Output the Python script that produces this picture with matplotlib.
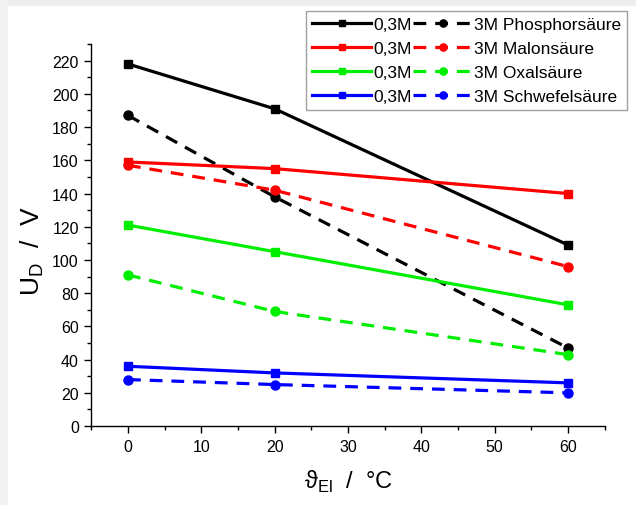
import matplotlib
matplotlib.use('Agg')
import matplotlib.pyplot as plt
from matplotlib.patches import Rectangle
from matplotlib.ticker import MultipleLocator

plt.rcParams['font.family'] = ['Liberation Sans', 'DejaVu Sans']
plt.rcParams['mathtext.fontset'] = 'custom'
plt.rcParams['mathtext.rm'] = 'Liberation Sans'

# Temperatur / °C
temps = [0, 20, 60]

acids = ['Phosphorsäure', 'Malonsäure', 'Oxalsäure', 'Schwefelsäure']
colors = ['black', '#ff0000', '#00ee00', '#0000ff']

# Durchbruchspannung U_D / V
u_03M_phosphor = [218, 191, 109]
u_03M_malon = [159, 155, 140]
u_03M_oxal = [121, 105, 73]
u_03M_schwefel = [36, 32, 26]

u_3M_phosphor = [187, 138, 47]
u_3M_malon = [157, 142, 96]
u_3M_oxal = [91, 69, 43]
u_3M_schwefel = [28, 25, 20]

u_03M = [u_03M_phosphor, u_03M_malon, u_03M_oxal, u_03M_schwefel]
u_3M = [u_3M_phosphor, u_3M_malon, u_3M_oxal, u_3M_schwefel]

fig = plt.figure(figsize=(6.36, 5.06), dpi=100)
ax = fig.add_axes([0.1436, 0.156, 0.8072, 0.755])

# grauer Rand (Screenshot-Rahmen)
fig.patches.append(Rectangle((0, 1 - 7 / 506), 1, 7 / 506, transform=fig.transFigure,
                             facecolor='#eeeeee', edgecolor='none', zorder=0))
fig.patches.append(Rectangle((0, 0), 8 / 636, 1, transform=fig.transFigure,
                             facecolor='#f2f2f2', edgecolor='none', zorder=0))

solid_handles = []
dashed_handles = []
for acid, col, y1, y2 in zip(acids, colors, u_03M, u_3M):
    h1, = ax.plot(temps, y1, color=col, lw=2.3, marker='s', ms=6,
                  label='0,3M', clip_on=False)
    h2, = ax.plot(temps, y2, color=col, lw=2.3, marker='o', ms=6.5,
                  ls=(0, (4, 2.8)), label=f'3M {acid}', clip_on=False)
    solid_handles.append(h1)
    dashed_handles.append(h2)

ax.set_xlim(-5, 65)
ax.set_ylim(0, 230)
ax.xaxis.set_major_locator(MultipleLocator(10))
ax.xaxis.set_minor_locator(MultipleLocator(5))
ax.yaxis.set_major_locator(MultipleLocator(20))
ax.yaxis.set_minor_locator(MultipleLocator(10))
ax.set_xticks([0, 10, 20, 30, 40, 50, 60])

for s in ['top', 'right']:
    ax.spines[s].set_visible(False)
for s in ['left', 'bottom']:
    ax.spines[s].set_linewidth(1.0)

ax.tick_params(axis='both', which='major', direction='out', length=5, width=1,
               labelsize=11.5, colors='black', pad=4)
ax.tick_params(axis='both', which='minor', direction='out', length=3, width=1)

ax.set_ylabel('U$_\\mathrm{D}$  /  V', fontsize=19)
ax.yaxis.set_label_coords(-0.088, 0.46)
ax.set_xlabel('ϑ$_\\mathrm{El}$  /  °C', fontsize=17, labelpad=10)

leg = fig.legend(solid_handles + dashed_handles,
                 [h.get_label() for h in solid_handles + dashed_handles],
                 ncol=2, loc='upper right', bbox_to_anchor=(0.986, 0.976),
                 fontsize=12.5, frameon=True, fancybox=False, edgecolor='#888888',
                 handlelength=3.4, handletextpad=0.1, columnspacing=0.1,
                 labelspacing=0.5, borderpad=0.35, borderaxespad=0.0,
                 markerscale=0.8)
leg.get_frame().set_linewidth(1.0)

fig.savefig('out.png', dpi=100, facecolor='white')
